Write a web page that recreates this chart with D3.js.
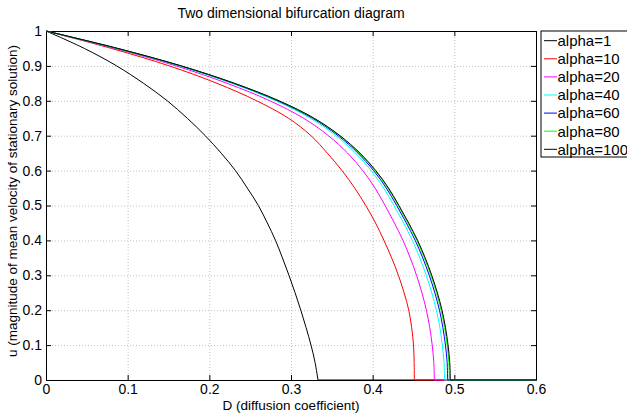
<!DOCTYPE html>
<html>
<head>
<meta charset="utf-8">
<script src="https://cdn.jsdelivr.net/npm/d3@7"></script>
<style>
	body { margin: 0; background: #fff; }
	svg { display: block; font-family: "Liberation Sans", Arial, sans-serif; }
	.grid line { stroke: #c4c4c4; stroke-dasharray: 1,2; }
</style>
</head>
<body>
<svg id="bif" width="627" height="413"></svg>
<script>
const Width = 627;
const Height = 413;

// tick values
const xTicks = [0, 0.1, 0.2, 0.3, 0.4, 0.5, 0.6];
const yTicks = [0, 0.1, 0.2, 0.3, 0.4, 0.5, 0.6, 0.7, 0.8, 0.9, 1];

// legend names and line colours
const names = ["alpha=1", "alpha=10", "alpha=20", "alpha=40", "alpha=60", "alpha=80", "alpha=100"];
const colors = ["#000000", "#ff0000", "#ff00ff", "#00ffff", "#0000ff", "#00ff00", "#000000"];

const uLevels = [1, 0.95, 0.9, 0.85, 0.8, 0.75, 0.7, 0.65, 0.6, 0.55, 0.5, 0.45, 0.4, 0.35, 0.3, 0.25, 0.2, 0.15, 0.1, 0.05, 0];
const dAlpha1 = [0, 0.047, 0.0865, 0.1195, 0.1485, 0.173, 0.195, 0.2145, 0.232, 0.2465, 0.26, 0.271, 0.281, 0.2895, 0.2975, 0.305, 0.312, 0.3185, 0.3245, 0.3295, 0.333];
const dAlpha10 = [0, 0.0802, 0.151, 0.2095, 0.258, 0.297, 0.3245, 0.3445, 0.3625, 0.378, 0.3915, 0.4035, 0.4138, 0.4232, 0.4315, 0.4385, 0.4442, 0.4478, 0.45, 0.4508, 0.451];
const dAlpha20 = [0, 0.0845, 0.1592, 0.2219, 0.2742, 0.3155, 0.3458, 0.3694, 0.3879, 0.4029, 0.4152, 0.4266, 0.4371, 0.446, 0.4537, 0.4603, 0.4658, 0.4699, 0.4729, 0.4749, 0.4755];
const dAlpha40 = [0, 0.0868, 0.1634, 0.2277, 0.2814, 0.3238, 0.3549, 0.3791, 0.3981, 0.4135, 0.4261, 0.4378, 0.4486, 0.4577, 0.4656, 0.4724, 0.478, 0.4823, 0.4853, 0.4874, 0.488];
const dAlpha60 = [0, 0.0874, 0.1646, 0.2295, 0.2836, 0.3263, 0.3577, 0.382, 0.4012, 0.4167, 0.4294, 0.4412, 0.4521, 0.4613, 0.4693, 0.4761, 0.4818, 0.486, 0.4891, 0.4912, 0.4918];
const dAlpha80 = [0, 0.0878, 0.1653, 0.2305, 0.2848, 0.3277, 0.3592, 0.3837, 0.4029, 0.4185, 0.4312, 0.4431, 0.454, 0.4633, 0.4713, 0.4781, 0.4838, 0.4881, 0.4912, 0.4933, 0.4939];
const dAlpha100 = [0, 0.088, 0.1657, 0.231, 0.2854, 0.3284, 0.36, 0.3845, 0.4038, 0.4194, 0.4322, 0.4441, 0.455, 0.4643, 0.4723, 0.4792, 0.4849, 0.4892, 0.4923, 0.4944, 0.495];
const curves = [dAlpha1, dAlpha10, dAlpha20, dAlpha40, dAlpha60, dAlpha80, dAlpha100];

const margin = {left: 46, right: 91, top: 31, bottom: 33};

const chart = d3.select("#bif");
const x = d3.scaleLinear().domain([0, 0.6]).range([margin.left, Width - margin.right]);
const y = d3.scaleLinear().domain([0, 1]).range([Height - margin.bottom, margin.top]);
const fmt = d => d === 0 ? "0" : d === 1 ? "1" : d3.format(".1f")(d);

// dotted grid goes in first
const gx = chart.append("g").attr("class", "grid").attr("transform", `translate(0,${y(0)})`)
	.call(d3.axisBottom(x).tickValues(xTicks.slice(1, -1)).tickSize(y(1) - y(0)).tickFormat(""));
gx.select(".domain").remove();
const gy = chart.append("g").attr("class", "grid").attr("transform", `translate(${x(0)},0)`)
	.call(d3.axisLeft(y).tickValues(yTicks.slice(1, -1)).tickSize(x(0) - x(0.6)).tickFormat(""));
gy.select(".domain").remove();

// axes with inward ticks on all four sides
const axisStyle = g => {
	g.select(".domain").attr("stroke", "#000").attr("stroke-width", 1);
	g.selectAll(".tick line").attr("stroke", "#000");
	g.selectAll("text").attr("font-size", 14).attr("fill", "#000").attr("font-family", "Liberation Sans, Arial, sans-serif");
};
chart.append("g").attr("transform", `translate(0,${y(0)})`)
	.call(d3.axisBottom(x).tickValues(xTicks).tickFormat(fmt).tickSizeInner(-5).tickSizeOuter(0).tickPadding(4.5))
	.call(axisStyle);
chart.append("g").attr("transform", `translate(0,${y(1)})`)
	.call(d3.axisTop(x).tickValues(xTicks).tickFormat("").tickSizeInner(-5).tickSizeOuter(0))
	.call(axisStyle);
chart.append("g").attr("transform", `translate(${x(0)},0)`)
	.call(d3.axisLeft(y).tickValues(yTicks).tickFormat(fmt).tickSizeInner(-5).tickSizeOuter(0).tickPadding(4))
	.call(axisStyle);
chart.append("g").attr("transform", `translate(${x(0.6)},0)`)
	.call(d3.axisRight(y).tickValues(yTicks).tickFormat("").tickSizeInner(-5).tickSizeOuter(0))
	.call(axisStyle);

// curves over the axes, alpha=100 last so it sits on top
const line = d3.line().x(d => x(d[0])).y(d => y(d[1])).curve(d3.curveCatmullRom.alpha(0.5));
const flat = d3.line().x(d => x(d[0])).y(d => y(d[1]));
curves.forEach((dc, i) => {
	const pts = dc.map((d, j) => [d, uLevels[j]]);
	chart.append("path").attr("d", line(pts)).attr("fill", "none").attr("stroke", colors[i]).attr("stroke-width", 1);
	// past the critical D the solution stays at zero
	chart.append("path").attr("d", flat([pts[pts.length - 1], [0.6, 0]]))
		.attr("fill", "none").attr("stroke", colors[i]).attr("stroke-width", 1);
});

// title and axis labels
chart.append("text").attr("x", (x(0) + x(0.6)) / 2).attr("y", 17.5).attr("text-anchor", "middle")
	.attr("font-size", 14).text("Two dimensional bifurcation diagram");
chart.append("text").attr("x", (x(0) + x(0.6)) / 2).attr("y", 409.5).attr("text-anchor", "middle")
	.attr("font-size", 13.5).text("D (diffusion coefficient)");
chart.append("text").attr("transform", "translate(17,201) rotate(-90)").attr("text-anchor", "middle")
	.attr("font-size", 13.5).text("u (magnitude of mean velocity of stationary solution)");

// legend box runs off the right edge like the original
const legend = chart.append("g").attr("transform", "translate(541,31)");
legend.append("rect").attr("width", 100).attr("height", 126).attr("fill", "#fff").attr("stroke", "#000").attr("stroke-width", 1);
names.forEach((n, i) => {
	const row = legend.append("g").attr("transform", `translate(0,${9.7 + i * 18.1})`);
	row.append("line").attr("x1", 3).attr("x2", 16).attr("stroke", colors[i]).attr("stroke-width", 1);
	row.append("text").attr("x", 16.5).attr("y", 5.3).attr("font-size", 15).text(n);
});
</script>
</body>
</html>
